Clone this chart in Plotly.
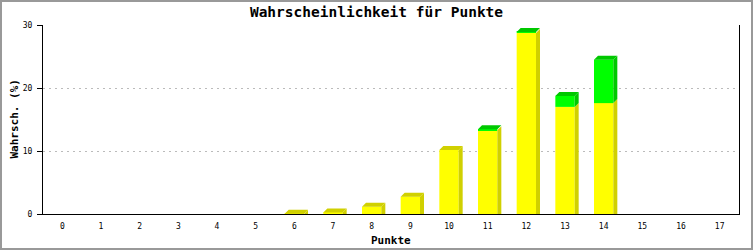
import plotly.graph_objects as go

punkte = list(range(18))
tick_labels = [str(p) for p in punkte]
gelb = [0, 0, 0, 0, 0, 0, 0.05, 0.25, 1.15, 2.75, 10.15, 13.3, 28.75, 17.0, 17.6, 0, 0, 0]
gruen = [0, 0, 0, 0, 0, 0, 0, 0, 0, 0, 0, 0.15, 0.15, 1.75, 6.9, 0, 0, 0]

title_text = "Wahrscheinlichkeit für Punkte"
x_title = "Punkte"
y_title = "Wahrsch. (%)"

# layout geometry (pixels)
W, H = 753, 250
L, R, T, B = 43, 14, 25, 36
plot_w, plot_h = W - L - R, H - T - B
y_max = 30
bar_w = 0.5
depth_px = 4
dx = depth_px / (plot_w / len(punkte))
dy = depth_px / (plot_h / y_max)

Y_FRONT, Y_DARK = "#ffff00", "#d0d000"
G_FRONT, G_DARK = "#00ff00", "#00c800"


def poly_trace(xs, ys, color):
    return go.Scatter(x=xs, y=ys, mode="lines", line=dict(width=0), fill="toself",
                      fillcolor=color, hoverinfo="skip", showlegend=False)


ys_x, ys_y, gs_x, gs_y, yt_x, yt_y, gt_x, gt_y = [], [], [], [], [], [], [], []
for p, yv, gv in zip(punkte, gelb, gruen):
    tot = yv + gv
    if tot <= 0:
        continue
    xl, xr = p - bar_w / 2, p + bar_w / 2
    ys_x += [xr, xr + dx, xr + dx, xr, xr, None]
    ys_y += [0, 0, yv + dy, yv, 0, None]
    if gv > 0:
        gs_x += [xr, xr + dx, xr + dx, xr, xr, None]
        gs_y += [yv, yv + dy, tot + dy, tot, yv, None]
        gt_x += [xl, xl + dx, xr + dx, xr, xl, None]
        gt_y += [tot, tot + dy, tot + dy, tot, tot, None]
    else:
        yt_x += [xl, xl + dx, xr + dx, xr, xl, None]
        yt_y += [tot, tot + dy, tot + dy, tot, tot, None]

fig = go.Figure()
fig.add_trace(poly_trace(ys_x, ys_y, Y_DARK))
if gs_x:
    fig.add_trace(poly_trace(gs_x, gs_y, G_DARK))
fig.add_trace(poly_trace(yt_x, yt_y, Y_DARK))
if gt_x:
    fig.add_trace(poly_trace(gt_x, gt_y, G_DARK))
fig.add_trace(go.Bar(x=punkte, y=gelb, width=bar_w, marker=dict(color=Y_FRONT, line=dict(width=0)),
                     showlegend=False))
fig.add_trace(go.Bar(x=punkte, y=gruen, base=gelb, width=bar_w,
                     marker=dict(color=G_FRONT, line=dict(width=0)), showlegend=False))

mono = "DejaVu Sans Mono"
fig.update_layout(
    width=W, height=H,
    margin=dict(l=L, r=R, t=T, b=B, pad=0, autoexpand=False),
    paper_bgcolor="white", plot_bgcolor="white",
    barmode="overlay",
    title=dict(text="<b>" + title_text + "</b>", x=0.5, xanchor="center",
               y=1 - 12 / H, yanchor="middle", yref="container",
               font=dict(family=mono, size=14.5, color="black")),
    xaxis=dict(range=[-0.5, len(punkte) - 0.5], tickvals=punkte, ticktext=tick_labels,
               ticks="", showline=True, linecolor="black", linewidth=1, showgrid=False,
               zeroline=False, ticklabelstandoff=4, automargin=False,
               tickfont=dict(family=mono, size=8, color="black")),
    yaxis=dict(range=[0, y_max], dtick=10, ticks="outside", ticklen=5, tickcolor="black",
               showline=True, mirror=True, linecolor="black", linewidth=1,
               showgrid=True, gridcolor="#bbbbbb", griddash="2px,4px", gridwidth=1,
               zeroline=False, ticklabelstandoff=3, automargin=False,
               tickfont=dict(family=mono, size=8, color="black")),
    annotations=[
        dict(text="<b>" + x_title + "</b>", xref="paper", yref="paper", x=0.5,
             y=-(240 - (H - B)) / plot_h, xanchor="center", yanchor="middle",
             showarrow=False, font=dict(family=mono, size=11, color="black")),
        dict(text="<b>" + y_title + "</b>", xref="paper", yref="paper", x=-(L - 14) / plot_w,
             y=0.5, xanchor="center", yanchor="middle", textangle=-90,
             showarrow=False, font=dict(family=mono, size=11, color="black")),
    ],
    shapes=[dict(type="rect", xref="paper", yref="paper",
                 x0=(1 - L) / plot_w, x1=(W - 1 - L) / plot_w,
                 y0=-(B - 1) / plot_h, y1=(plot_h + T - 1) / plot_h,
                 line=dict(color="#999999", width=2), layer="above")],
)

fig.write_html("out.html")
